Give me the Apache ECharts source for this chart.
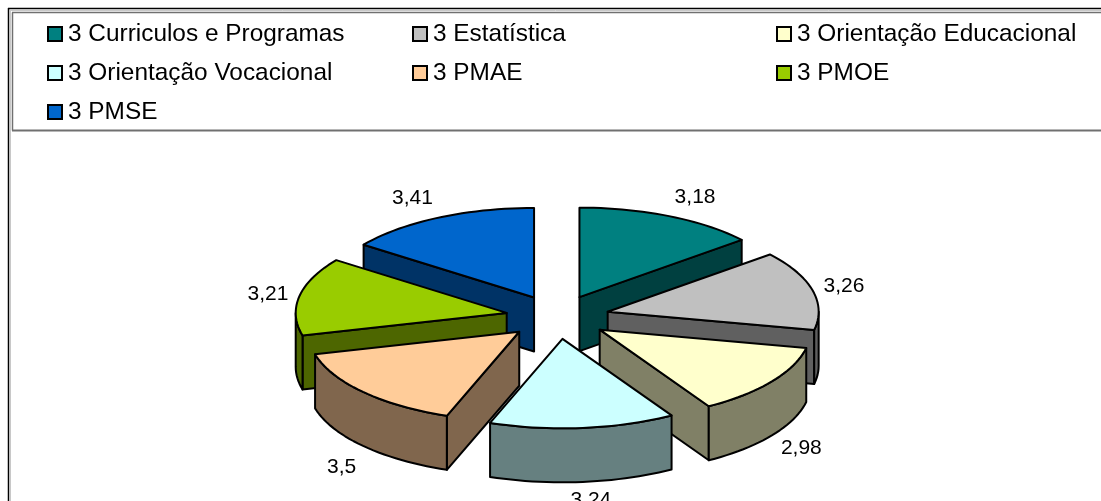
<!DOCTYPE html>
<html>
<head>
<meta charset="utf-8">
<style>html,body{margin:0;padding:0;background:#fff}#c{width:1101px;height:501px}</style>
<script src="https://cdn.jsdelivr.net/npm/echarts@6/dist/echarts.min.js"></script>
</head>
<body>
<div id="c"></div>
<script>
const categories = ['3 Curriculos e Programas','3 Estatística','3 Orientação Educacional','3 Orientação Vocacional','3 PMAE','3 PMOE','3 PMSE'];
const values = [3.18,3.26,2.98,3.24,3.5,3.21,3.41];
const colors = ['#008080','#C0C0C0','#FFFFCC','#CCFFFF','#FFCC99','#99CC00','#0066CC'];
const sideColors = ['#004040','#606060','#808066','#668080','#80664D','#4D6600','#003366'];

// layout of the tilted, exploded pie
const CX = 557.5, CY = 317, RX = 211, RY = 89.5, DEPTH = 54, EXPLODE = 51.7;
const labelNudges = [[26,-19],[31.5,-4],[29.5,67],[8,72.5],[-21.5,75],[-31.5,-2],[-26,-19]];
const legendCols = [47,412,776], legendRows = [22,61,100];

const total = values.reduce((a,b)=>a+b,0);
const rad = d => d*Math.PI/180;
const spans = []; let acc = 0;
values.forEach(v => { const s = acc; acc += v/total*360; spans.push([s,acc]); });
const order = spans.map((s,i)=>[Math.cos(rad((s[0]+s[1])/2)),i]).sort((a,b)=>b[0]-a[0]).map(p=>p[1]);

function arcPts(ax,ay,a0,a1,dy){
  const pts=[]; const n=Math.max(2,Math.ceil((a1-a0)/2));
  for(let i=0;i<=n;i++){const t=rad(a0+(a1-a0)*i/n);pts.push([ax+RX*Math.sin(t),ay-RY*Math.cos(t)+dy]);}
  return pts;
}
function renderSlice(idx){
  return function(params, api){
    const v = api.value(0);
    const share = v/total*360;
    const a0 = spans[idx][0], a1 = a0+share, m=(a0+a1)/2;
    const ax = CX+EXPLODE*Math.sin(rad(m)), ay = CY-EXPLODE*(RY/RX)*Math.cos(rad(m));
    const rank = order.indexOf(idx)*10;
    const st = {lineWidth:2,stroke:'#000',lineJoin:'round'};
    const kids=[];
    const poly=(points,fill,z)=>kids.push({type:'polygon',shape:{points},style:Object.assign({fill},st),z2:rank+z,silent:true});
    const cut=(a)=>{const p=arcPts(ax,ay,a,a,0)[0];poly([[ax,ay],p,[p[0],p[1]+DEPTH],[ax,ay+DEPTH]],sideColors[idx],1);};
    if(Math.sin(rad(a1))>1e-6) cut(a1);
    if(Math.sin(rad(a0))<-1e-6) cut(a0);
    const r0=Math.max(a0,90), r1=Math.min(a1,270);
    if(r1>r0){
      const top=arcPts(ax,ay,r0,r1,0), bot=arcPts(ax,ay,r0,r1,DEPTH).reverse();
      poly(top.concat(bot),sideColors[idx],2);
    }
    poly([[ax,ay]].concat(arcPts(ax,ay,a0,a1,0)),colors[idx],3);
    const rim=arcPts(ax,ay,m,m,0)[0], nudge=labelNudges[idx];
    kids.push({type:'text',x:rim[0]+nudge[0],y:rim[1]+nudge[1],z2:100,silent:true,
      style:{text:String(v).replace('.',','),fontFamily:'Liberation Sans',fontSize:21,fill:'#000',align:'center',verticalAlign:'middle'}});
    return {type:'group',children:kids};
  };
}

const series = categories.map((name,i)=>({
  type:'custom',name,coordinateSystem:'none',silent:true,
  itemStyle:{color:colors[i]},
  data:[[values[i]]],
  renderItem:renderSlice(i)
}));
const legend = categories.map((name,i)=>({
  data:[name],
  left:legendCols[i%3],top:legendRows[Math.floor(i/3)],
  padding:0,icon:'rect',itemWidth:14,itemHeight:14,itemGap:0,
  selectedMode:false,
  itemStyle:{borderColor:'#000',borderWidth:2},
  textStyle:{fontFamily:'Liberation Sans',fontSize:24.4,color:'#000',padding:[0,0,0,1]}
}));
const line=(x1,y1,x2,y2,stroke,lineWidth)=>({type:'line',shape:{x1,y1,x2,y2},style:{stroke,lineWidth},silent:true});
const graphic=[
  line(8.5,8,8.5,501,'#000',1.5),
  line(8,8.5,1101,8.5,'#000',1.5),
  line(10.5,10,10.5,501,'#C8C8C8',1),
  line(10,10.5,1101,10.5,'#C8C8C8',1),
  line(12.5,12.5,12.5,130.5,'#707070',1.5),
  line(12,12.5,1101,12.5,'#707070',1.5),
  line(12,130.5,1101,130.5,'#707070',2)
];
const chart=echarts.init(document.getElementById('c'),null,{renderer:'canvas'});
chart.setOption({animation:false,backgroundColor:'#fff',legend,series,graphic});
</script>
</body>
</html>
